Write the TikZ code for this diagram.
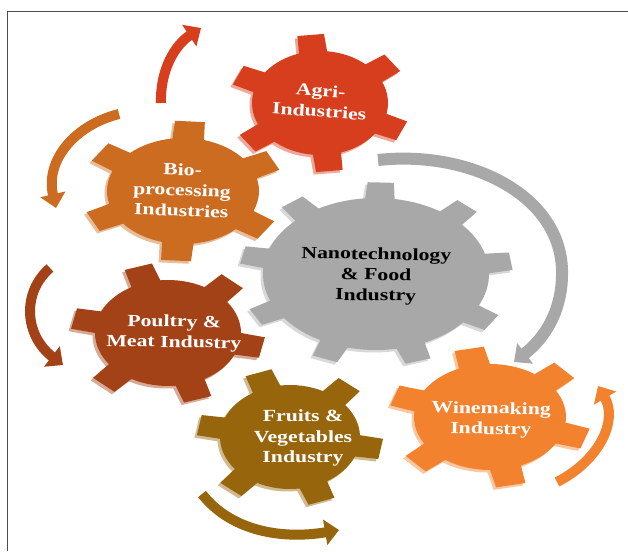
\documentclass[tikz,border=0pt]{standalone}
\usepackage{fontspec}
\setmainfont{Liberation Serif}[FakeStretch=1.28]
\usetikzlibrary{arrows.meta}

\definecolor{agri}{RGB}{214,62,30}
\definecolor{bio}{RGB}{204,108,32}
\definecolor{nano}{RGB}{168,168,168}
\definecolor{poultry}{RGB}{163,66,22}
\definecolor{fruit}{RGB}{150,101,12}
\definecolor{wine}{RGB}{243,130,46}

% gear outline on the unit circle, tooth sizes from \toothbase, \toothtop, \tipradius
\newcommand{\gearpath}[2]{%
  (#2-\toothbase:1)
  \foreach \k [evaluate=\k as \a using #2+(\k-1)*360/#1] in {1,...,#1}{
    -- (\a-\toothbase:1) -- (\a-\toothtop:\tipradius)
    -- (\a+\toothtop:\tipradius) -- (\a+\toothbase:1)
    arc[start angle=\a+\toothbase, end angle=\a+360/#1-\toothbase, radius=1]
  } -- cycle}

% #1 centre, #2 x radius, #3 y radius, #4 teeth, #5 first tooth, #6 colour
\newcommand{\gear}[6]{%
  \fill[#6!45!white, shift={#1}, xshift=-2.5pt, yshift=-2.5pt, xscale=#2, yscale=-#3] \gearpath{#4}{#5};
  \fill[#6, shift={#1}, xscale=#2, yscale=-#3] \gearpath{#4}{#5};
}

\tikzset{
  lbl/.style={font=\bfseries\fontsize{17}{20.5}\selectfont, text=white, align=center},
  turn/.style={line width=10pt, -{Triangle[length=14pt, width=25pt]}}
}

\begin{document}
\begin{tikzpicture}[x=1pt, y=-1pt]
  \useasboundingbox (0,0) rectangle (628,551);
  \fill[white] (0,0) rectangle (628,551);
  \draw[gray!60!black, line width=1.2pt] (7.5,551) -- (7.5,11.5) -- (628,11.5);

  % gears, back to front
  \def\toothbase{12}\def\toothtop{8.5}\def\tipradius{1.33}
  \gear{(320,103)}{68}{52}{6}{96}{agri}
  \def\toothbase{7.5}\def\toothtop{5.5}\def\tipradius{1.21}
  \gear{(376,274)}{113}{76}{9}{88}{nano}
  \def\toothbase{12}\def\toothtop{8.5}\def\tipradius{1.33}
  \gear{(183,191)}{76}{53}{6}{86}{bio}
  \gear{(168,333)}{73}{53}{6}{108}{poultry}
  \gear{(290,437)}{70}{52}{6}{110}{fruit}
  \gear{(490,417)}{76}{53}{6}{102}{wine}

  % labels
  \node[lbl, rotate=-4] (agritxt) at (320,101) {Agri-\\Industries};
  \node[lbl, rotate=-2] (biotxt) at (182,190) {Bio-\\processing\\Industries};
  \node[lbl, text=black, rotate=-1] (nanotxt) at (376,276) {Nanotechnology\\\& Food\\Industry};
  \node[lbl, rotate=-1] (poultrytxt) at (174,333) {Poultry \&\\Meat Industry};
  \node[lbl] (fruittxt) at (303,438) {Fruits \&\\Vegetables\\Industry};
  \node[lbl, rotate=-1] (winetxt) at (491,420) {Winemaking\\Industry};

  % turning arrows
  \draw[turn, agri] (161,103) .. controls (160,70) and (175,45) .. (201,28);
  \draw[turn, bio] (119,114) .. controls (75,125) and (45,160) .. (56,208);
  \draw[turn, poultry] (50,268) .. controls (22,292) and (24,335) .. (63,365);
  \draw[turn, fruit] (202,494) .. controls (230,530) and (280,540) .. (339,530);
  \draw[turn, wine] (557,482) .. controls (600,460) and (618,420) .. (598,386);
  \draw[turn, nano, line width=12pt] (378,160) .. controls (470,150) and (560,195) .. (562,270)
    .. controls (563,310) and (545,338) .. (514,362);
\end{tikzpicture}
\end{document}
